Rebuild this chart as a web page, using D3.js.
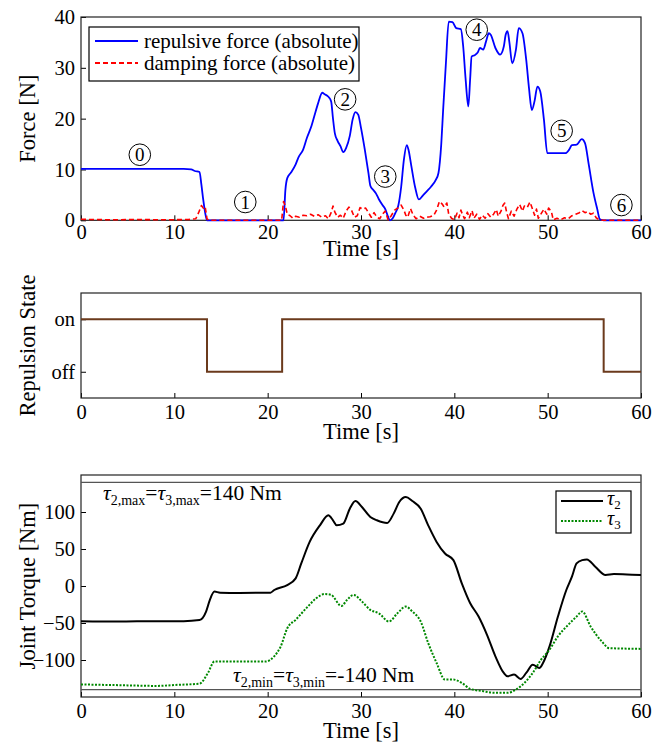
<!DOCTYPE html>
<html>
<head>
<meta charset="utf-8">
<script src="https://cdn.jsdelivr.net/npm/d3@7"></script>
<style>
body { margin: 0; background: #fff; }
svg text { font-family: "Liberation Serif", "Times New Roman", serif; fill: #000; }
</style>
</head>
<body>
<div id="chart"></div>
<script>
// time axis, shared by the three panels
var timeDomain = [0, 60];
var timeTicks = [0, 10, 20, 30, 40, 50, 60];

// panel 1: forces [N], pairs of [time, value]
var forceTicks = [0, 10, 20, 30, 40];
var repulsiveForce = [[0,10.1],[3,10.1],[6,10.1],[9,10.1],[11,10.1],[11.8,10.0],[12.2,9.7],[12.7,9.5],[12.9,7],[13.1,4],[13.3,1.5],[13.5,0],
  [21.7,0],[21.9,6],[22.1,8.3],[22.5,9.4],[23.0,11],[23.3,12.4],[23.8,13.9],[24.2,16.2],[24.7,18.6],[25.0,20.5],[25.4,23],[25.85,25.1],
  [26.1,24.8],[26.5,24.3],[26.8,23.4],[27.0,20],[27.2,17.1],[27.5,15.6],[27.8,14.6],[28.1,13.4],[28.4,14.2],[28.8,16.6],[29.1,19.8],
  [29.4,21.3],[29.7,20.8],[30.0,18.2],[30.4,14],[30.8,9.3],[31.0,6.8],[31.3,6.0],[31.6,5.3],[31.9,4.2],[32.3,3.0],[32.6,2.2],[32.9,0.7],
  [33.1,0],[33.4,0.4],[33.7,1.5],[34.0,2.9],[34.3,6.5],[34.6,12],[34.9,14.8],[35.1,13.8],[35.4,10.6],[35.8,6.5],[36.2,4.1],[36.6,4.8],
  [37.0,5.6],[37.5,6.6],[38.0,7.9],[38.3,9.3],[38.6,15],[38.8,21.7],[39.1,31],[39.4,39.1],[39.8,39.0],[40.2,37.8],[40.7,37.6],[40.95,34.2],
  [41.2,28],[41.5,22.4],[41.7,28],[41.85,32.2],[42.2,32.5],[42.5,33.0],[42.75,33.9],[43.1,33.6],[43.4,35.2],[43.7,36.8],[43.9,36.5],
  [44.4,33.9],[44.9,32.6],[45.3,34.2],[45.5,36.5],[45.7,37.2],[45.9,35],[46.2,30.9],[46.6,33.6],[46.9,37.8],[47.3,36.8],[47.7,31.6],
  [48.0,26],[48.3,21.7],[48.6,23.5],[48.9,26.3],[49.2,25.4],[49.6,19.8],[49.96,13.2],[51.9,13.2],[52.3,13.9],[52.6,14.8],[53.1,14.9],
  [53.65,15.96],[54.0,15.2],[54.4,11],[54.9,5.5],[55.3,2.3],[55.6,0.2],[56,0],[60,0]];
var dampingForce = [[0,0.2],[3,0.1],[6,0.15],[9,0.1],[11.5,0.15],[12.3,0.3],[12.6,1.5],[12.9,2.9],[13.1,2.4],[13.3,2.7],[13.5,0.3],[13.7,0],
  [21.5,0],[21.7,3.7],[21.9,2.8],[22.1,1.2],[22.4,0.9],[22.7,0.4],[23.0,0.8],[23.4,0.6],[23.8,1.0],[24.2,0.9],[24.6,1.2],[25.0,0.8],
  [25.4,1.1],[25.8,0.6],[26.2,0.9],[26.5,0.3],[26.8,1.5],[27.0,2.8],[27.2,1.6],[27.5,0.6],[27.8,1.0],[28.1,0.4],[28.4,1.8],[28.7,2.6],
  [29.0,1.9],[29.3,0.6],[29.6,0.9],[29.9,2.5],[30.2,2.2],[30.5,2.4],[30.8,1.5],[31.1,0.6],[31.4,1.5],[31.7,0.6],[32.0,0.3],[32.3,1.2],
  [32.6,1.8],[32.9,0.1],[33.2,0.8],[33.6,2.0],[34.0,2.5],[34.3,3.0],[34.6,2.0],[34.8,1.0],[35.0,0.6],[35.3,2.3],[35.6,1.0],[35.9,0.3],
  [36.3,0.8],[36.7,0.4],[37.0,0.6],[37.4,0.7],[37.8,1.0],[38.1,2.0],[38.4,3.7],[38.7,3.2],[38.9,2.6],[39.2,3.4],[39.4,1.2],[39.7,0.4],
  [40.0,0.1],[40.3,1.4],[40.5,0.5],[40.7,2.0],[40.9,1.0],[41.1,0.3],[41.4,1.6],[41.6,0.5],[41.9,1.9],[42.1,0.4],[42.4,1.2],[42.7,0.2],
  [43.0,1.0],[43.3,0.4],[43.6,1.3],[43.9,0.6],[44.2,1.2],[44.5,2.1],[44.7,0.8],[45.0,1.8],[45.2,2.9],[45.4,3.4],[45.6,1.6],[45.8,0.3],
  [46.1,1.8],[46.4,0.8],[46.7,2.2],[47.0,3.1],[47.3,1.8],[47.5,2.8],[47.8,2.5],[48.1,3.6],[48.3,2.6],[48.6,1.0],[48.8,2.2],[49.0,0.4],
  [49.3,1.3],[49.6,2.2],[49.9,1.2],[50.1,2.4],[50.4,1.7],[50.6,0.1],[51.0,0.4],[51.4,0.1],[51.8,0.5],[52.2,0.3],[52.6,0.9],[53.0,1.2],
  [53.4,1.5],[53.7,1.9],[54.0,1.5],[54.3,1.7],[54.6,1.2],[54.9,1.4],[55.2,0.5],[55.5,0.1],[56,0],[60,0]];
// circled phase labels: [time, force, label]
var phaseLabels = [[6.3,12.9,"0"],[17.6,3.6,"1"],[28.3,23.8,"2"],[32.6,8.6,"3"],[42.4,37.5,"4"],[51.5,17.6,"5"],[57.9,3.0,"6"]];

// panel 2: repulsion state (1 = on, 0 = off), step changes at these times
var stateTimes = [0, 13.5, 21.55, 56.0, 60];
var stateValues = [1, 0, 1, 0, 0];
var stateTicks = [0, 1];
var stateLabels = ["off", "on"];

// panel 3: joint torques [Nm]
var torqueTicks = [-100, -50, 0, 50, 100];
var torqueLimit = 140;
var tau2 = [[0,-47.5],[4,-48],[8,-47.5],[11,-47.5],[12.7,-46],[13.4,-34.5],[13.8,-19],[14.3,-7.6],[14.9,-9],[17,-9.3],[20.3,-9],[20.7,-5.4],
  [22.1,1.3],[23.0,10.3],[23.6,30.5],[24.5,59.6],[25.6,82],[26.5,95.5],[27.0,88.8],[27.4,82],[28.1,84.3],[28.8,104.5],[29.4,114.8],
  [30.1,106.7],[31.0,93.3],[31.7,88.8],[32.8,85.2],[33.5,97.8],[34.1,113.5],[34.8,120.2],[35.5,114.8],[36.4,104.5],[37.2,82],[38.1,59.6],
  [39.0,43.9],[39.9,35],[40.8,3.6],[41.7,-23.3],[42.6,-41.3],[43.5,-66],[44.4,-95],[45.3,-117.5],[45.7,-122],[46.4,-119.7],[47.1,-125.6],
  [47.7,-117.5],[48.4,-106.3],[49.1,-110.8],[49.5,-104],[50.2,-81.6],[51.1,-41.3],[52.0,-5.4],[52.6,12.6],[53.1,30.5],[53.7,35],[54.2,35.9],
  [55.1,26],[56.2,14.8],[57.1,16.1],[58.5,15.5],[60,14.8]];
var tau3 = [[0,-133],[4,-134],[8,-135],[10.5,-133.5],[12.7,-132],[13.6,-117.5],[14.3,-102],[17,-102],[19.8,-102],[20.7,-95],[21.4,-81.6],
  [22.1,-57],[23.0,-45.7],[24.3,-27.8],[25.2,-16.6],[26.1,-10.8],[26.8,-12],[27.9,-27],[28.5,-18.8],[29.2,-12],[30.1,-21],[31.0,-32.3],
  [31.9,-36.8],[33.0,-48],[33.9,-36.8],[34.8,-27.8],[35.5,-34.5],[36.4,-48],[37.2,-77],[38.1,-104],[39.0,-126.5],[39.9,-126.5],
  [40.8,-131],[41.7,-139],[43.0,-142],[44.4,-144.4],[45.7,-144.4],[46.6,-140],[47.5,-131],[48.4,-117.5],[49.3,-99.5],[50.2,-86],
  [51.1,-68],[52.2,-52.5],[53.1,-41.3],[53.7,-34.5],[54.6,-54.7],[55.8,-75],[56.6,-84],[58,-84.5],[60,-85]];

var WIDTH = 652, HEIGHT = 742;
var LEFT = 81, RIGHT = 641;
var TICK_FONT = 20.5, LABEL_FONT = 22.5;

var svg = d3.select('#chart').append('svg')
    .attr('width', WIDTH)
    .attr('height', HEIGHT);

var x = d3.scaleLinear().domain(timeDomain).range([LEFT, RIGHT]);

function drawFrame(top, bottom, y, yTicks, yFormat, ylabel, xlabelY, pad) {
    var g = svg.append('g');

    var xAxis = d3.axisBottom(x).tickValues(timeTicks).tickSizeInner(-5).tickSizeOuter(0).tickPadding(pad);
    var gx = g.append('g').attr('transform', 'translate(0,' + bottom + ')').call(xAxis);
    var yAxis = d3.axisLeft(y).tickValues(yTicks).tickSizeInner(-5).tickSizeOuter(0).tickPadding(6).tickFormat(yFormat);
    var gy = g.append('g').attr('transform', 'translate(' + LEFT + ',0)').call(yAxis);

    [gx, gy].forEach(function(a) {
	a.select('.domain').remove();
	a.attr('font-family', '"Liberation Serif", serif').attr('font-size', TICK_FONT);
	a.selectAll('line').attr('stroke', '#000');
    });

    g.append('rect')
	.attr('x', LEFT).attr('y', top)
	.attr('width', RIGHT - LEFT).attr('height', bottom - top)
	.attr('fill', 'none').attr('stroke', '#222').attr('stroke-width', 1.2);

    g.append('text')
	.attr('transform', 'translate(35,' + ((top + bottom) / 2) + ') rotate(-90)')
	.attr('text-anchor', 'middle')
	.attr('font-size', LABEL_FONT)
	.text(ylabel);

    g.append('text')
	.attr('x', (LEFT + RIGHT) / 2).attr('y', xlabelY)
	.attr('text-anchor', 'middle')
	.attr('font-size', LABEL_FONT)
	.text('Time [s]');
    return g;
}

function drawSeries(data, y, color, width, dash, curve) {
    var line = d3.line()
	    .x(function(d) { return x(d[0]); })
	    .y(function(d) { return y(d[1]); })
	    .curve(curve || d3.curveLinear);
    svg.append('path')
	.datum(data)
	.attr('d', line)
	.attr('fill', 'none')
	.attr('stroke', color)
	.attr('stroke-width', width)
	.attr('stroke-dasharray', dash || null)
	.attr('stroke-linejoin', 'round');
}

// ---- panel 1: forces
var yForce = d3.scaleLinear().domain([0, 40]).range([220.3, 17]);
drawFrame(17, 220.3, yForce, forceTicks, d3.format('d'), 'Force [N]', 256, 4);
drawSeries(repulsiveForce, yForce, '#0000ff', 1.8, null, d3.curveMonotoneX);
drawSeries(dampingForce, yForce, '#ff0000', 1.6, '5,3');

phaseLabels.forEach(function(p) {
    svg.append('circle')
	.attr('cx', x(p[0])).attr('cy', yForce(p[1]))
	.attr('r', 10.8)
	.attr('fill', 'none').attr('stroke', '#000').attr('stroke-width', 1);
    svg.append('text')
	.attr('x', x(p[0])).attr('y', yForce(p[1]) + 6.5)
	.attr('text-anchor', 'middle')
	.attr('font-size', 19)
	.text(p[2]);
});

var leg1 = svg.append('g');
leg1.append('rect').attr('x', 89).attr('y', 27).attr('width', 270).attr('height', 54)
    .attr('fill', '#fff').attr('stroke', '#000').attr('stroke-width', 1.2);
[['repulsive force (absolute)', '#0000ff', null], ['damping force (absolute)', '#ff0000', '5,3']].forEach(function(l, i) {
    var ly = 41 + i * 22;
    leg1.append('line').attr('x1', 95).attr('x2', 138).attr('y1', ly).attr('y2', ly)
	.attr('stroke', l[1]).attr('stroke-width', 1.8).attr('stroke-dasharray', l[2]);
    leg1.append('text').attr('x', 144).attr('y', ly + 7).attr('font-size', 21).text(l[0]);
});

// ---- panel 2: repulsion state
var yState = d3.scaleLinear().domain([-0.5, 1.5]).range([398, 293]);
drawFrame(293, 398, yState, stateTicks, function(d) { return stateLabels[d]; }, 'Repulsion State', 439, 6);
var stateLine = d3.line()
	.x(function(d, i) { return x(stateTimes[i]); })
	.y(function(d) { return yState(d); })
	.curve(d3.curveStepAfter);
svg.append('path').datum(stateValues).attr('d', stateLine)
    .attr('fill', 'none').attr('stroke', '#6b3a1c').attr('stroke-width', 2);

// ---- panel 3: joint torques
var yTorque = d3.scaleLinear().domain([-150, 150]).range([697, 475]);
drawFrame(475, 697, yTorque, torqueTicks, d3.format('d'), 'Joint Torque [Nm]', 738, 6);
[torqueLimit, -torqueLimit].forEach(function(v) {
    svg.append('line').attr('x1', LEFT).attr('x2', RIGHT)
	.attr('y1', yTorque(v)).attr('y2', yTorque(v))
	.attr('stroke', '#555').attr('stroke-width', 1.3);
});
drawSeries(tau2, yTorque, '#000', 2, null, d3.curveMonotoneX);
drawSeries(tau3, yTorque, '#008800', 2, '2,1.5', d3.curveMonotoneX);

function limitText(xpos, ypos, kind, value) {
    var t = svg.append('text').attr('x', xpos).attr('y', ypos).attr('font-size', 21.5);
    t.append('tspan').attr('font-style', 'italic').text('τ');
    t.append('tspan').attr('font-size', 14).attr('dy', 5).text('2,' + kind);
    t.append('tspan').attr('dy', -5).text('=');
    t.append('tspan').attr('font-style', 'italic').text('τ');
    t.append('tspan').attr('font-size', 14).attr('dy', 5).text('3,' + kind);
    t.append('tspan').attr('dy', -5).text('=' + value + ' Nm');
}
limitText(103, 500, 'max', torqueLimit);
limitText(233, 682, 'min', -torqueLimit);

var leg3 = svg.append('g');
leg3.append('rect').attr('x', 556).attr('y', 491).attr('width', 75).attr('height', 42)
    .attr('fill', '#fff').attr('stroke', '#000').attr('stroke-width', 1.2);
[['2', '#000', null], ['3', '#008800', '2,1.5']].forEach(function(l, i) {
    var ly = 501 + i * 20;
    leg3.append('line').attr('x1', 561).attr('x2', 603).attr('y1', ly).attr('y2', ly)
	.attr('stroke', l[1]).attr('stroke-width', 2).attr('stroke-dasharray', l[2]);
    var t = leg3.append('text').attr('x', 607).attr('y', ly + 4).attr('font-size', 20);
    t.append('tspan').attr('font-style', 'italic').text('τ');
    t.append('tspan').attr('font-size', 13).attr('dy', 4).text(l[0]);
});
</script>
</body>
</html>
